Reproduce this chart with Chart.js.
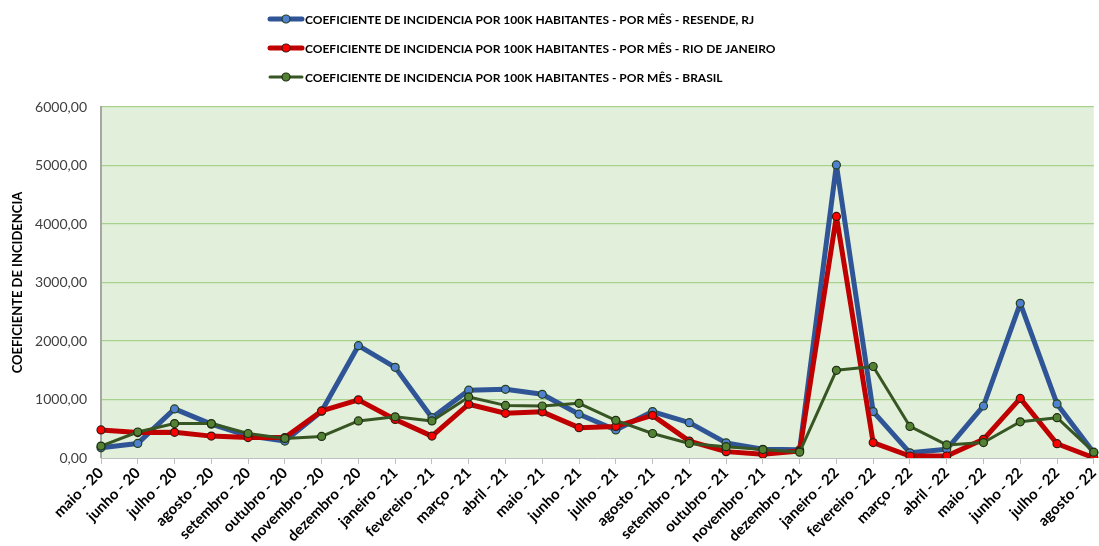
<!DOCTYPE html>
<html>
<head>
<meta charset="utf-8">
<script src="https://cdn.jsdelivr.net/npm/chart.js@4"></script>
<style>
  html, body { margin: 0; padding: 0; background: #fff; }
  #wrap { width: 1099px; height: 546px; position: relative; }
</style>
</head>
<body>
<div id="wrap"><canvas id="incidenceChart"></canvas></div>
<script>
const months = ["maio - 20", "junho - 20", "julho - 20", "agosto - 20", "setembro - 20", "outubro - 20",
    "novembro - 20", "dezembro - 20", "janeiro - 21", "fevereiro - 21", "março - 21", "abril - 21",
    "maio - 21", "junho - 21", "julho - 21", "agosto - 21", "setembro - 21", "outubro - 21",
    "novembro - 21", "dezembro - 21", "janeiro - 22", "fevereiro - 22", "março - 22", "abril - 22",
    "maio - 22", "junho - 22", "julho - 22", "agosto - 22"];

const resende = [175, 250, 840, 580, 380, 290, 800, 1920, 1550, 690, 1160, 1175, 1090, 750,
    480, 795, 605, 260, 150, 140, 5010, 795, 90, 150, 890, 2645, 925, 90];
const rioDeJaneiro = [480, 435, 440, 375, 350, 350, 805, 995, 660, 375, 920, 765, 790, 520,
    540, 730, 290, 110, 65, 120, 4130, 265, 35, 35, 320, 1020, 245, 5];
const brasil = [205, 445, 590, 590, 420, 335, 370, 635, 705, 635, 1045, 900, 890, 935,
    645, 420, 250, 195, 145, 100, 1500, 1565, 540, 225, 265, 620, 690, 100];

const yTicks = [0, 1000, 2000, 3000, 4000, 5000, 6000];

const seriesNames = [
    "COEFICIENTE DE INCIDENCIA POR 100K HABITANTES - POR MÊS - RESENDE, RJ",
    "COEFICIENTE DE INCIDENCIA POR 100K HABITANTES - POR MÊS - RIO DE JANEIRO",
    "COEFICIENTE DE INCIDENCIA POR 100K HABITANTES - POR MÊS - BRASIL"
];

const FONT = "Lato, 'Liberation Sans', sans-serif";

// plot area background (light green like the excel sheet)
const plotBackground = {
    id: "plotBackground",
    beforeDraw(chart) {
        const { ctx, chartArea: a } = chart;
        ctx.save();
        ctx.fillStyle = "#e2efda";
        ctx.fillRect(a.left, a.top, a.right - a.left, a.bottom - a.top);
        ctx.restore();
    }
};

// legend stacked one per row, left aligned
const stackedLegend = {
    id: "stackedLegend",
    afterDraw(chart) {
        const ctx = chart.ctx;
        const rows = [19, 48, 77];
        ctx.save();
        chart.data.datasets.forEach((ds, i) => {
            const y = rows[i];
            ctx.strokeStyle = ds.borderColor;
            ctx.lineWidth = ds.borderWidth;
            ctx.lineCap = "round";
            ctx.beginPath();
            ctx.moveTo(270, y);
            ctx.lineTo(302, y);
            ctx.stroke();
            ctx.beginPath();
            ctx.arc(286, y, 4, 0, Math.PI * 2);
            ctx.fillStyle = ds.pointBackgroundColor;
            ctx.fill();
            ctx.lineWidth = 1.2;
            ctx.strokeStyle = ds.pointBorderColor;
            ctx.stroke();
            ctx.fillStyle = "#000";
            ctx.font = "bold 12px " + FONT;
            ctx.textBaseline = "middle";
            ctx.fillText(ds.label, 305, y + 1);
        });
        ctx.restore();
    }
};

const lineCommon = { borderJoinStyle: "round", borderCapStyle: "round", pointRadius: 4, pointBorderWidth: 1.2 };

new Chart(document.getElementById("incidenceChart").getContext("2d"), {
    type: "line",
    data: {
        labels: months,
        datasets: [
            Object.assign({
                label: seriesNames[0],
                data: resende,
                borderColor: "#2f5597",
                borderWidth: 5,
                pointBackgroundColor: "#4f81d0",
                pointBorderColor: "#25401a",
                order: 2
            }, lineCommon),
            Object.assign({
                label: seriesNames[1],
                data: rioDeJaneiro,
                borderColor: "#c00000",
                borderWidth: 5,
                pointBackgroundColor: "#ff0000",
                pointBorderColor: "#3a1a10",
                order: 1
            }, lineCommon),
            Object.assign({
                label: seriesNames[2],
                data: brasil,
                borderColor: "#375623",
                borderWidth: 3,
                pointBackgroundColor: "#548235",
                pointBorderColor: "#1e2e12",
                order: 0
            }, lineCommon)
        ]
    },
    options: {
        responsive: true,
        maintainAspectRatio: false,
        animation: false,
        layout: { padding: { top: 107, right: 0, left: 0, bottom: 0 } },
        plugins: {
            legend: { display: false },
            tooltip: { enabled: false }
        },
        scales: {
            x: {
                offset: false,
                afterFit(scale) {
                    scale.paddingRight = 0;
                },
                grid: {
                    display: true,
                    drawOnChartArea: false,
                    drawTicks: true,
                    tickLength: 6,
                    color: "#bfbfbf"
                },
                border: { color: "#bfbfbf", width: 1 },
                ticks: {
                    autoSkip: false,
                    maxRotation: 45,
                    minRotation: 45,
                    color: "#000",
                    padding: 0,
                    font: { family: FONT, size: 15, weight: "bold" }
                }
            },
            y: {
                min: 0,
                max: 6000,
                afterBuildTicks(scale) {
                    scale.ticks = yTicks.map(v => ({ value: v }));
                },
                afterFit(scale) {
                    scale.width = 101;
                },
                grid: {
                    color: (c) => c.tick && c.tick.value === 0 ? "rgba(0,0,0,0)" : "#a9d18e",
                    lineWidth: 1.3,
                    drawTicks: false
                },
                border: { color: "#a6a6a6", width: 2 },
                ticks: {
                    color: "#404040",
                    padding: 14,
                    font: { family: FONT, size: 14 },
                    callback: (v) => v.toFixed(2).replace(".", ",")
                },
                title: {
                    display: true,
                    text: "COEFICIENTE DE INCIDENCIA",
                    color: "#000",
                    padding: { top: 10, bottom: 4 },
                    font: { family: FONT, size: 13, weight: "bold" }
                }
            }
        }
    },
    plugins: [plotBackground, stackedLegend]
});
</script>
</body>
</html>
